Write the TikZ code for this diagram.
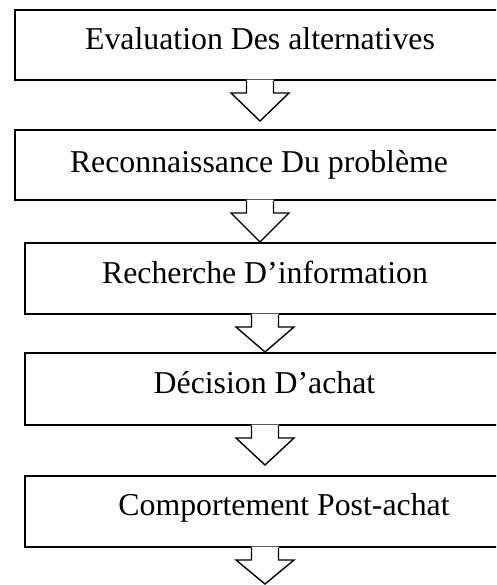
\documentclass[tikz,border=0pt]{standalone}
\usepackage{fontspec}
\setmainfont{Liberation Serif}
\usetikzlibrary{calc}

\tikzset{
  stagebox/.style={draw=black, line width=2pt, fill=white, rectangle, inner sep=0pt},
  stagetext/.style={anchor=base, inner sep=0pt, font=\fontsize{31.8pt}{36pt}\selectfont},
  arrowline/.style={draw=black, line width=1.4pt, line join=miter},
}

% Hollow block arrow leaving the bottom edge #1 of a box, pointing down to #2
\newcommand{\flowarrow}[2]{%
  \fill[white] ($(#1)+(-13.5,-1.3)$) -- ($(#1)+(-13.5,12)$) -- ($(#1)+(-29,12)$)
    -- (#2) -- ($(#1)+(29,12)$) -- ($(#1)+(13.5,12)$) -- ($(#1)+(13.5,-1.3)$) -- cycle;
  \draw[arrowline] ($(#1)+(-13.5,0)$) -- ($(#1)+(-13.5,12)$) -- ($(#1)+(-29,12)$)
    -- (#2) -- ($(#1)+(29,12)$) -- ($(#1)+(13.5,12)$) -- ($(#1)+(13.5,0)$);
}

\begin{document}
\begin{tikzpicture}[x=1pt,y=-1pt]
\useasboundingbox (0,0) rectangle (496,585);
\clip (0,0) rectangle (496,585);

% stage boxes (their right sides run past the frame)
\node[stagebox, minimum width=490pt, minimum height=70pt] (b1) at (260,45) {};
\node[stagebox, minimum width=490pt, minimum height=70pt] (b2) at (260,165) {};
\node[stagebox, minimum width=480pt, minimum height=71pt] (b3) at (265,278.5) {};
\node[stagebox, minimum width=480pt, minimum height=72pt] (b4) at (265,389) {};
\node[stagebox, minimum width=480pt, minimum height=71pt] (b5) at (265,511.5) {};

% stage labels
\node[stagetext] (t1) at (260,50) {Evaluation Des alternatives};
\node[stagetext] (t2) at (259,173) {Reconnaissance Du problème};
\node[stagetext] (t3) at (265,283) {Recherche D’information};
\node[stagetext] (t4) at (264.5,393) {Décision D’achat};
\node[stagetext] (t5) at (284,515) {Comportement Post-achat};

% arrow tips
\coordinate (tip1) at ($(b1.south)+(0,40)$);
\coordinate (tip2) at (b2.south |- b3.north);
\coordinate (tip3) at (b4.north);
\coordinate (tip4) at ($(b4.south)+(0,39)$);
\coordinate (tip5) at ($(b5.south)+(0,36)$);

% block arrows between the stages
\flowarrow{b1.south}{tip1}
\flowarrow{b2.south}{tip2}
\flowarrow{b3.south}{tip3}
\flowarrow{b4.south}{tip4}
\flowarrow{b5.south}{tip5}
\end{tikzpicture}
\end{document}
